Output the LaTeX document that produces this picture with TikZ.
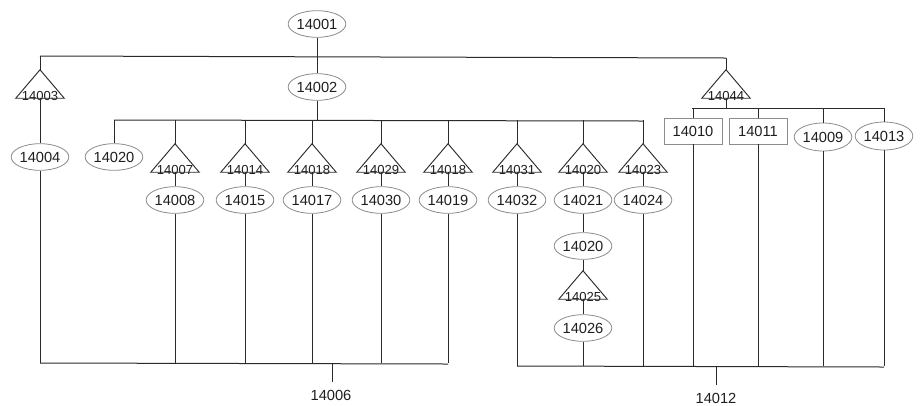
\documentclass[tikz,border=0pt]{standalone}
\usepackage{fontspec}
\setmainfont{Liberation Sans}
\usetikzlibrary{shapes.geometric}
\definecolor{ln}{HTML}{2A2A2A}
\definecolor{bd}{HTML}{8C8C8C}
\definecolor{tx}{HTML}{1E1E1E}
\begin{document}
\begin{tikzpicture}[x=0.75pt,y=-0.75pt,
  conn/.style={draw=ln,line width=0.75pt},
  tick/.style={draw=ln,line width=0.6pt},
  ell/.style={ellipse,draw=bd,line width=0.6pt,minimum width=42.5pt,minimum height=20pt,inner sep=0pt,font=\fontsize{11}{12}\selectfont,text=tx},
  box/.style={rectangle,draw=bd,line width=0.6pt,minimum width=43.5pt,minimum height=19.5pt,inner sep=0pt,font=\fontsize{11}{12}\selectfont,text=tx},
  tri/.style={rectangle,minimum width=36pt,minimum height=21pt,inner sep=0pt},
  tritext/.style={font=\fontsize{9.8}{10}\selectfont,text=tx,inner sep=0pt,anchor=base,yshift=-1.4pt},
  trline/.style={draw=ln,line width=0.7pt,line join=miter},
  lab/.style={font=\fontsize{11}{12}\selectfont,text=tx,inner sep=0pt}]
\useasboundingbox (0,0) rectangle (920,405);

% bus coordinates
\coordinate (b1L) at (40,56);  \coordinate (b1R) at (726,58);
\coordinate (b2L) at (114,120); \coordinate (b2R) at (643,121);
\coordinate (b3L) at (692,108); \coordinate (b3R) at (884,108);
\coordinate (b6L) at (40,363); \coordinate (b6R) at (448,364);
\coordinate (b12L) at (517,366); \coordinate (b12R) at (884,367);

% nodes
\node[ell] (e1) at (317,24) {14001};
\node[ell] (e2) at (317,87) {14002};
\node[tri,label={[tritext,name=t3l]south:14003}] (t3) at (40,84) {};
\node[ell] (e4) at (40,157) {14004};
\node[ell] (e20a) at (114,157) {14020};

\node[tri,label={[tritext,name=t7l]south:14007}] (t7) at (175,158) {};
\node[tri,label={[tritext,name=t14l]south:14014}] (t14) at (245,158) {};
\node[tri,label={[tritext,name=t18al]south:14018}] (t18a) at (312,158) {};
\node[tri,label={[tritext,name=t29l]south:14029}] (t29) at (381,158) {};
\node[tri,label={[tritext,name=t18bl]south:14018}] (t18b) at (448,158) {};
\node[tri,label={[tritext,name=t31l]south:14031}] (t31) at (517,158) {};
\node[tri,label={[tritext,name=t20l]south:14020}] (t20) at (583,158) {};
\node[tri,label={[tritext,name=t23l]south:14023}] (t23) at (643,158) {};

\node[ell] (e8) at (175,200) {14008};
\node[ell] (e15) at (245,200) {14015};
\node[ell] (e17) at (312,200) {14017};
\node[ell] (e30) at (381,200) {14030};
\node[ell] (e19) at (448,200) {14019};
\node[ell] (e32) at (517,200) {14032};
\node[ell] (e21) at (583,200) {14021};
\node[ell] (e24) at (643,200) {14024};

\node[ell] (e20b) at (583,246) {14020};
\node[tri,label={[tritext,name=t25l]south:14025}] (t25) at (583,285) {};
\node[ell] (e26) at (583,328) {14026};

\node[tri,label={[tritext,name=t44l]south:14044}] (t44) at (726,84) {};
\node[box] (r10) at (693,131) {14010};
\node[box] (r11) at (758,131) {14011};
\node[ell,minimum height=21pt] (e9) at (823,137) {14009};
\node[ell,minimum height=21pt] (e13) at (884,136) {14013};

\node[lab] (l6) at (331,395) {14006};
\node[lab] (l12) at (716,398) {14012};
\coordinate (k6) at (332,382);
\coordinate (k12) at (716,385);

% triangles
\foreach \t in {t3,t7,t14,t18a,t29,t18b,t31,t20,t23,t25,t44}
  \draw[trline] (\t.south west) -- (\t.north) -- (\t.south east) -- cycle;

% buses
\draw[conn] (b1L) -- (b1R);
\draw[conn] (b2L) -- (b2R);
\draw[conn] (b3L) -- (b3R);
\draw[conn] (b6L) -- (b6R);
\draw[conn] (b12L) -- (b12R);

% connectors
\draw[conn] (e1) -- (e2);
\draw[conn] (t3.north) -- (t3.north |- b1L);
\draw[conn] (t44.north) -- (t44.north |- b1R);
\draw[conn] (t3.south) -- (e4.north);
\draw[conn] (e4.south) -- (e4.south |- b6L);
\draw[conn] (e2.south) -- (e2.south |- b2L);
\foreach \n in {e20a,t7,t14,t18a,t29,t18b,t31,t20,t23}
  \draw[conn] (\n.north) -- (\n.north |- b2L);
\foreach \a/\b in {t7/e8,t14/e15,t18a/e17,t29/e30,t18b/e19,t31/e32,t20/e21,t23/e24}
  \draw[conn] (\a.south) -- (\b.north);
\draw[conn] (e21.south) -- (e20b.north);
\draw[conn] (e20b.south) -- (t25.north);
\draw[conn] (t25.south) -- (e26.north);
\foreach \n in {e8,e15,e17,e30,e19}
  \draw[conn] (\n.south) -- (\n.south |- b6L);
\foreach \n in {e32,e26,e24,r10,r11,e9,e13}
  \draw[conn] (\n.south) -- (\n.south |- b12L);
\draw[conn] (t44.south) -- (t44.south |- b3L);
\foreach \n in {r10,r11,e9,e13}
  \draw[conn] (\n.north) -- (\n.north |- b3L);
\draw[tick] (k6) -- (k6 |- b6L);
\draw[tick] (k12) -- (k12 |- b12L);
\end{tikzpicture}
\end{document}
